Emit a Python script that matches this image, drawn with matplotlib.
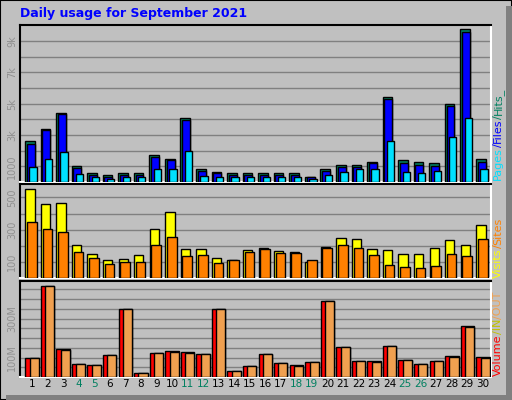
import numpy as np
import matplotlib.pyplot as plt
from matplotlib.patches import Rectangle

days = np.arange(1, 31)
weekend = [4, 5, 11, 12, 18, 19, 25, 26]

hits = [2.6, 3.4, 4.4, 1.0, 0.55, 0.42, 0.55, 0.55, 1.7, 1.45, 4.1, 0.8, 0.67, 0.55, 0.55,
        0.55, 0.55, 0.55, 0.35, 0.8, 1.1, 1.1, 1.3, 5.4, 1.4, 1.25, 1.2, 5.0, 9.8, 1.5]
files = [2.4, 3.3, 4.35, 0.9, 0.45, 0.35, 0.45, 0.45, 1.6, 1.4, 3.95, 0.7, 0.6, 0.45, 0.45,
         0.45, 0.45, 0.45, 0.3, 0.7, 0.95, 0.95, 1.2, 5.3, 1.2, 1.1, 1.05, 4.85, 9.6, 1.3]
pages = [0.94, 1.45, 1.9, 0.48, 0.3, 0.2, 0.3, 0.3, 0.85, 0.85, 2.0, 0.4, 0.35, 0.3, 0.3,
         0.3, 0.3, 0.3, 0.2, 0.45, 0.65, 0.8, 0.85, 2.6, 0.65, 0.6, 0.7, 2.85, 4.1, 0.85]
visits = [550, 462, 468, 206, 150, 112, 119, 144, 306, 412, 181, 181, 125, 112, 175,
          187, 169, 162, 100, 194, 250, 244, 181, 175, 150, 150, 187, 237, 206, 331]
sites = [350, 306, 287, 162, 125, 87, 100, 100, 206, 256, 137, 144, 94, 112, 162,
         181, 156, 156, 112, 187, 206, 187, 144, 81, 69, 62, 75, 150, 137, 244]
volume = [99, 466, 146, 68, 63, 115, 351, 22, 125, 135, 130, 120, 351, 33, 58,
          120, 74, 63, 79, 392, 156, 84, 84, 161, 89, 68, 84, 110, 264, 104]
vol_out = [99, 466, 140, 68, 63, 115, 351, 22, 125, 130, 125, 120, 351, 33, 58,
           120, 74, 58, 79, 392, 156, 84, 79, 161, 89, 68, 84, 104, 259, 99]

BG = '#c0c0c0'
W, H = 512, 400
fig = plt.figure(figsize=(5.12, 4.0), dpi=100)
fig.patch.set_facecolor(BG)
fig.add_artist(Rectangle((0, 0), 1, 1, transform=fig.transFigure, fill=False, ec='black', lw=1.5))
fig.add_artist(Rectangle((506 / W, 0), 6 / W, 1 - 6 / H, transform=fig.transFigure, fc='#808080', ec='none'))
fig.add_artist(Rectangle((6 / W, 0), 1, 5 / H, transform=fig.transFigure, fc='#808080', ec='none'))


def panel(top, bottom):
    ax = fig.add_axes([20 / W, 1 - bottom / H, 471 / W, (bottom - top) / H])
    ax.set_facecolor(BG)
    ax.set_xlim(0.23, 30.52)
    ax.set_xticks([])
    for s in ['top', 'left']:
        ax.spines[s].set_color('black')
    for s in ['bottom', 'right']:
        ax.spines[s].set_color('white')
    for s in ax.spines.values():
        s.set_linewidth(1.5)
    ax.tick_params(axis='y', length=0, labelsize=7, labelcolor='#909090', pad=2)
    for lab in ax.get_yticklabels():
        lab.set_rotation(90)
    return ax


def bars(ax, lo, hi, vals, color):
    ax.bar(days + (lo + hi) / 2, vals, width=hi - lo, color=color, edgecolor='black', lw=1, zorder=3)


# top panel
ax1 = panel(25, 182)
ax1.set_ylim(0, 10.03)
for g in range(1, 10):
    ax1.axhline(g, color='#808080', lw=1, zorder=1)
bars(ax1, -0.45, 0.17, hits, '#008060')
bars(ax1, -0.34, 0.17, files, '#0000ff')
bars(ax1, -0.17, 0.30, pages, '#00e0ff')
ax1.set_yticks([1, 3, 5, 7, 9], ['1000', '3k', '5k', '7k', '9k'], rotation=90, va='center')

# middle panel
ax2 = panel(184, 278)
ax2.set_ylim(0, 583)
for g in range(100, 600, 100):
    ax2.axhline(g, color='#808080', lw=1, zorder=1)
bars(ax2, -0.43, 0.17, visits, '#ffff00')
bars(ax2, -0.32, 0.30, sites, '#ff8000')
ax2.set_yticks([100, 300, 500], ['100', '300', '500'], rotation=90, va='center')

# bottom panel
ax3 = panel(281, 377)
ax3.set_ylim(0, 493)
for g in range(50, 500, 50):
    ax3.axhline(g, color='#808080', lw=1, zorder=1)
bars(ax3, -0.43, 0.43, volume, '#ff0000')
bars(ax3, -0.15, 0.43, vol_out, '#f0a050')
ax3.set_yticks([100, 300], ['100M', '300M'], rotation=90, va='center')

for d in days:
    ax3.text(d, -10, str(d), ha='center', va='top', fontsize=7.5,
             color='#008060' if d in weekend else 'black')

fig.text(20 / W, 1 - 14 / H, 'Daily usage for September 2021', color='#0000ff',
         fontsize=9, fontweight='bold', va='center')

# right side legends
fig.canvas.draw()
renderer = fig.canvas.get_renderer()


def legend(parts, x, y0):
    y = y0
    for txt, col in parts:
        t = fig.text(x, y, txt, color=col, rotation=90, fontsize=8, ha='center', va='bottom')
        bb = t.get_window_extent(renderer)
        y += bb.height / (H)


legend([('Pages', '#00e0ff'), ('/', '#0000ff'), ('Files', '#0000ff'), ('/', '#008060'), ('Hits_', '#008060')],
       498 / W, 1 - 180 / H)
legend([('Visits', '#ffff00'), ('/', '#ff8000'), ('Sites', '#ff8000')], 498 / W, 1 - 278 / H)
legend([('Volume', '#ff0000'), ('/IN', '#c0c000'), ('/OUT', '#f0a050')], 498 / W, 1 - 376 / H)

fig.savefig('out.png', dpi=100, facecolor=BG)
